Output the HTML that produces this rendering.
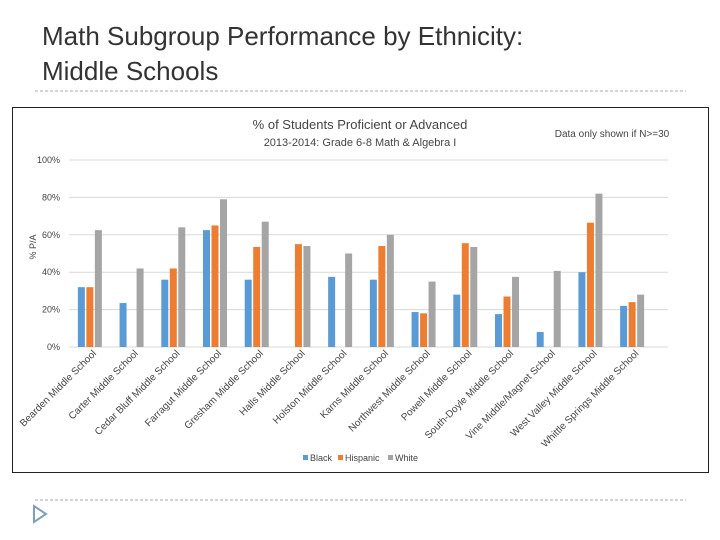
<!DOCTYPE html>
<html><head><meta charset="utf-8"><style>
body{margin:0;background:#fff;font-family:"Liberation Sans",sans-serif}
svg{display:block}
</style></head><body>
<svg width="720" height="540" xmlns="http://www.w3.org/2000/svg" font-family="Liberation Sans, sans-serif">
<text x="42" y="45" font-size="26" fill="#333">Math Subgroup Performance by Ethnicity:</text>
<text x="42" y="80" font-size="26" fill="#333">Middle Schools</text>
<line x1="35" y1="91" x2="686" y2="91" stroke="#aaa" stroke-dasharray="3,2"/>
<line x1="35" y1="500" x2="686" y2="500" stroke="#aaa" stroke-dasharray="3,2"/>
<polygon points="34,506 34,522 46,514" fill="#fff" stroke="#7f9fc0" stroke-width="2"/>
<rect x="12.5" y="107.5" width="696" height="365" fill="#fff" stroke="#222"/>
<text x="360" y="129" font-size="13" fill="#444" text-anchor="middle">% of Students Proficient or Advanced</text>
<text x="360" y="146" font-size="11" fill="#444" text-anchor="middle">2013-2014:  Grade 6-8 Math &amp; Algebra I</text>
<text x="612" y="137" font-size="10" fill="#444" text-anchor="middle">Data only shown if N&gt;=30</text>
<text transform="translate(36,247) rotate(-90)" font-size="9" fill="#444" text-anchor="middle">% P/A</text>
<g id="grid"></g><g id="bars"></g><g id="xl"></g>
<g font-size="9" fill="#444">
<rect x="303" y="455" width="5" height="5" fill="#5b9bd5"/><text x="310" y="461">Black</text>
<rect x="338" y="455" width="5" height="5" fill="#ed7d31"/><text x="345" y="461">Hispanic</text>
<rect x="388" y="455" width="5" height="5" fill="#a5a5a5"/><text x="395" y="461">White</text>
</g>
</svg>
<script>
const categories=["Bearden Middle School","Carter Middle School","Cedar Bluff Middle School","Farragut Middle School","Gresham Middle School","Halls Middle School","Holston Middle School","Karns Middle School","Northwest Middle School","Powell Middle School","South-Doyle Middle School","Vine Middle/Magnet School","West Valley Middle School","Whittle Springs Middle School"];
const black=[32,23.5,36,62.5,36,null,37.5,36,18.7,28,17.6,8,40,22];
const hispanic=[32,null,42,65,53.5,55,null,54,18,55.5,27,null,66.5,24];
const white=[62.5,42,64,79,67,54,50,60,35,53.5,37.5,40.7,82,28];
const ticks=[0,20,40,60,80,100];
const NS="http://www.w3.org/2000/svg";
const x0=69,x1=653,y0=347,y1=160;
const bw=(x1-x0)/categories.length;
const ys=v=>y0-(v/100)*(y0-y1);
const xc=i=>x0+bw*(i+0.5);
function mk(t,a,p){const e=document.createElementNS(NS,t);for(const k in a)e.setAttribute(k,a[k]);p.appendChild(e);return e;}
const g=document.getElementById('grid');
ticks.forEach(t=>{
 const l=mk('line',{x1:x0,x2:668,y1:ys(t),y2:ys(t),stroke:'#d9d9d9'},g);
 
 
 const tx=mk('text',{x:60,y:ys(t)+3,'font-size':9,fill:'#444','text-anchor':'end'},g);
 tx.textContent=t+'%';
 
 
});
const b=document.getElementById('bars');
const series=[[black,'#5b9bd5','black'],[hispanic,'#ed7d31','hispanic'],[white,'#a5a5a5','white']];
const w=7,gap=8.5;
series.forEach((s,si)=>{
 s[0].forEach((v,i)=>{
  if(v==null)return;
  const r=mk('rect',{x:xc(i)+(si-1)*gap-w/2,y:ys(v),width:w,height:y0-ys(v),fill:s[1]},b);
  
  
 });
});
const xl=document.getElementById('xl');
categories.forEach((c,i)=>{
 const t=mk('text',{transform:`translate(${xc(i)+7},${y0+7}) rotate(-45)`,'font-size':10,fill:'#444','text-anchor':'end'},xl);
 t.textContent=c;
 
 
});
</script>
</body></html>
